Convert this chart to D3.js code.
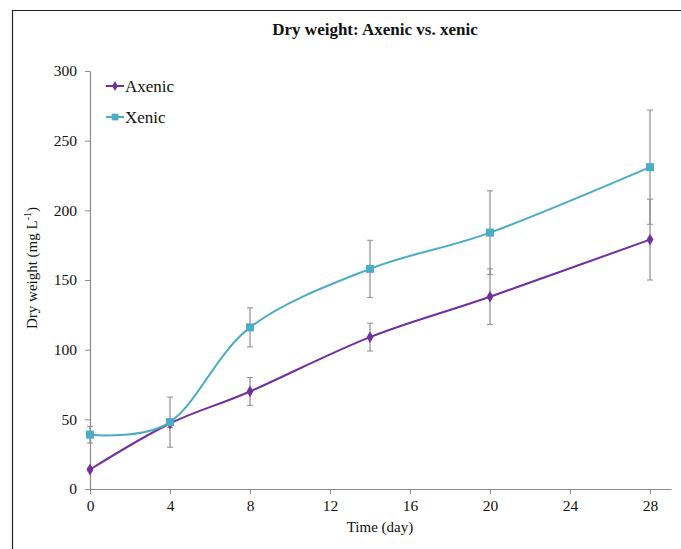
<!DOCTYPE html>
<html>
<head>
<meta charset="utf-8">
<script src="https://cdn.jsdelivr.net/npm/d3@7/dist/d3.min.js"></script>
<style>
  body { margin: 0; background: #fff; }
  svg { display: block; font-family: "Liberation Serif", "Times New Roman", serif; }
</style>
</head>
<body>
<svg id="chart" width="681" height="549"></svg>
<script>
const days = [0, 4, 8, 14, 20, 28];
const axenic = [14, 47, 70, 109, 138, 179];
const axenicErr = [1, 3, 10, 10, 20, 29];
const xenic = [39, 48, 116, 158, 184, 231];
const xenicErr = [6, 18, 14, 20.5, 30, 41];
const xTicks = [0, 4, 8, 12, 16, 20, 24, 28];
const yTicks = [0, 50, 100, 150, 200, 250, 300];
const seriesNames = ["Axenic", "Xenic"];
const colors = ["#7030A0", "#4BACC6"];

const svg = d3.select("#chart");

// outer frame (top and left edges visible)
svg.append("line").attr("x1", 12).attr("x2", 681).attr("y1", 10.5).attr("y2", 10.5)
  .attr("stroke", "#222").attr("stroke-width", 1.2);
svg.append("line").attr("x1", 12.5).attr("x2", 12.5).attr("y1", 10).attr("y2", 549)
  .attr("stroke", "#222").attr("stroke-width", 1.2);

const x = d3.scaleLinear().domain([0, 29.05]).range([90, 671]);
const y = d3.scaleLinear().domain([0, 300]).range([489, 71]);

// axes
const xAxis = svg.append("g").attr("transform", `translate(0,${y(0)})`)
  .call(d3.axisBottom(x).tickValues(xTicks).tickSize(5).tickSizeOuter(0).tickPadding(6));
const yAxis = svg.append("g").attr("transform", `translate(${x(0)},0)`)
  .call(d3.axisLeft(y).tickValues(yTicks).tickSize(5).tickSizeOuter(0).tickPadding(8));
[xAxis, yAxis].forEach(g => {
  g.select(".domain").attr("stroke", "#8c8c8c").attr("stroke-width", 1.2);
  g.selectAll(".tick line").attr("stroke", "#8c8c8c");
  g.selectAll(".tick text").attr("fill", "#111").style("font-size", "15.5px")
    .style("font-family", "'Liberation Serif', serif");
});

// title
svg.append("text").attr("x", 375).attr("y", 35).attr("text-anchor", "middle")
  .style("font-size", "17px").style("font-weight", "bold").attr("fill", "#111")
  .text("Dry weight: Axenic vs. xenic");

// axis labels
svg.append("text").attr("x", 380).attr("y", 532).attr("text-anchor", "middle")
  .style("font-size", "15px").attr("fill", "#111").text("Time (day)");
const yl = svg.append("text").attr("transform", "translate(37,268) rotate(-90)")
  .attr("text-anchor", "middle").style("font-size", "15px").attr("fill", "#111");
yl.append("tspan").text("Dry weight (mg L");
yl.append("tspan").attr("dy", -6).style("font-size", "10px").text("-1");
yl.append("tspan").attr("dy", 6).text(")");

const series = [
  { name: seriesNames[0], vals: axenic, err: axenicErr, color: colors[0], marker: d3.symbolDiamond, msize: 40 },
  { name: seriesNames[1], vals: xenic, err: xenicErr, color: colors[1], marker: d3.symbolSquare, msize: 64 }
];

// error bars
series.forEach(s => {
  const g = svg.append("g");
  days.forEach((d, i) => {
    const cx = x(d), y1 = y(s.vals[i] - s.err[i]), y2 = y(s.vals[i] + s.err[i]);
    g.append("line").attr("x1", cx).attr("x2", cx).attr("y1", y1).attr("y2", y2)
      .attr("stroke", "#8c8c8c").attr("stroke-width", 1.2);
    [y1, y2].forEach(yy => g.append("line").attr("x1", cx - 3).attr("x2", cx + 3)
      .attr("y1", yy).attr("y2", yy).attr("stroke", "#8c8c8c").attr("stroke-width", 1));
  });
});

const line = d3.line().x(d => x(d[0])).y(d => y(d[1])).curve(d3.curveCardinal.tension(0));

series.forEach(s => {
  const pts = days.map((d, i) => [d, s.vals[i]]);
  svg.append("path").datum(pts).attr("d", line).attr("fill", "none")
    .attr("stroke", s.color).attr("stroke-width", 2);
  svg.selectAll(null).data(pts).enter().append("path")
    .attr("transform", d => `translate(${x(d[0])},${y(d[1])})`)
    .attr("d", d3.symbol().type(s.marker).size(s.msize))
    .attr("fill", s.color);
});

// legend
series.forEach((s, i) => {
  const ly = 86 + i * 31;
  svg.append("line").attr("x1", 106).attr("x2", 124).attr("y1", ly).attr("y2", ly)
    .attr("stroke", s.color).attr("stroke-width", 2);
  svg.append("path").attr("transform", `translate(115,${ly})`)
    .attr("d", d3.symbol().type(s.marker).size(s.msize * 0.7)).attr("fill", s.color);
  svg.append("text").attr("x", 125).attr("y", ly + 5.5).style("font-size", "17px")
    .attr("fill", "#111").text(s.name);
});
</script>
</body>
</html>
